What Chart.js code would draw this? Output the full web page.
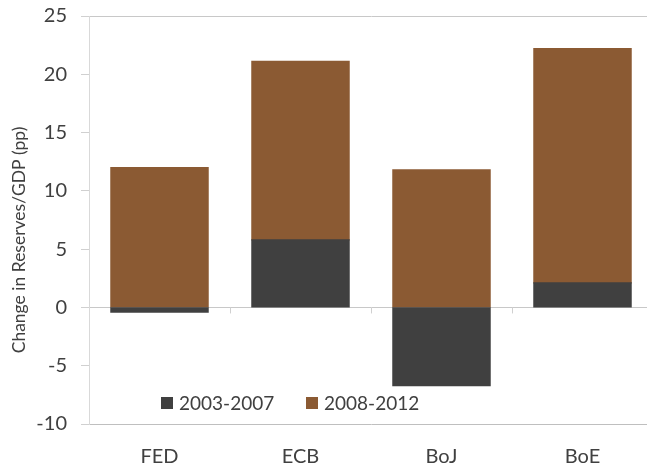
<!DOCTYPE html>
<html>
<head>
<meta charset="utf-8">
<script src="https://cdn.jsdelivr.net/npm/chart.js@4/dist/chart.umd.min.js"></script>
<style>
html,body{margin:0;padding:0;overflow:hidden;background:#fff;}
#wrap{width:660px;height:468px;}
</style>
</head>
<body>
<div id="wrap"><canvas id="c" width="660" height="468"></canvas></div>
<script>
const categories = ["FED", "ECB", "BoJ", "BoE"];
const series2003 = [-0.4, 5.8, -6.7, 2.1];
const series2008 = [12.0, 15.3, 11.8, 20.1];
const seriesLabels = ["2003-2007", "2008-2012"];
const yTicks = [-10, -5, 0, 5, 10, 15, 20, 25];
const yTitle = "Change in Reserves/GDP (pp)";

const FONT = "Lato, 'Open Sans', sans-serif";
const DARK = "#404040";
const BROWN = "#8B5A33";

const insideLegend = {
  id: 'insideLegend',
  afterDraw(chart) {
    const ctx = chart.ctx;
    const area = chart.chartArea;
    const y = area.bottom - 21;
    let x = area.left + 72;
    ctx.save();
    ctx.font = "19px " + FONT;
    ctx.textBaseline = "middle";
    chart.data.datasets.forEach((ds) => {
      ctx.fillStyle = ds.backgroundColor;
      ctx.fillRect(x, y - 6, 12, 12);
      ctx.fillStyle = "#404040";
      ctx.fillText(ds.label, x + 18, y + 1);
      x += 145;
    });
    ctx.restore();
  }
};

const sideTitle = {
  id: 'sideTitle',
  afterDraw(chart) {
    const ctx = chart.ctx;
    const area = chart.chartArea;
    ctx.save();
    ctx.translate(19, (area.top + area.bottom) / 2 + 20);
    ctx.rotate(-Math.PI / 2);
    ctx.font = "17.5px " + FONT;
    ctx.fillStyle = "#404040";
    ctx.textAlign = "center";
    ctx.textBaseline = "middle";
    ctx.fillText(yTitle, 0, 0);
    ctx.restore();
  }
};

const zeroTicks = {
  id: 'zeroTicks',
  afterDatasetsDraw(chart) {
    const ctx = chart.ctx;
    const xs = chart.scales.x, ys = chart.scales.y;
    const y0 = ys.getPixelForValue(0);
    ctx.save();
    ctx.strokeStyle = "#d0d0d0";
    ctx.lineWidth = 1;
    for (let i = 1; i < categories.length; i++) {
      const px = Math.round((xs.getPixelForValue(i - 1) + xs.getPixelForValue(i)) / 2) + 0.5;
      ctx.beginPath();
      ctx.moveTo(px, y0);
      ctx.lineTo(px, y0 + 6);
      ctx.stroke();
    }
    ctx.restore();
  }
};

new Chart(document.getElementById('c'), {
  type: 'bar',
  data: {
    labels: categories,
    datasets: [
      { label: seriesLabels[0], data: series2003, backgroundColor: DARK, categoryPercentage: 1, barPercentage: 0.69, inflateAmount: 0.6 },
      { label: seriesLabels[1], data: series2008, backgroundColor: BROWN, categoryPercentage: 1, barPercentage: 0.69, inflateAmount: 0.6 }
    ]
  },
  options: {
    responsive: false,
    animation: false,
    layout: { padding: { top: 16, right: 7, left: 0, bottom: 0 } },
    plugins: { legend: { display: false }, tooltip: { enabled: false } },
    scales: {
      x: {
        stacked: true,
        grid: { display: false },
        border: { display: true, color: "#bfbfbf", width: 1 },
        ticks: { color: "#404040", font: { family: FONT, size: 20 }, padding: 13 },
        afterFit(s) { s.height = 44; s.paddingLeft = 0; s.paddingRight = 0; }
      },
      y: {
        stacked: true,
        min: -10, max: 25,
        afterBuildTicks(s) { s.ticks = yTicks.map(v => ({ value: v })); },
        grid: {
          drawOnChartArea: true,
          drawTicks: true,
          tickLength: 8,
          tickColor: "#d0d0d0",
          color: (c) => (c.tick && (c.tick.value === 25 || c.tick.value === 0)) ? "#c8c8c8" : "rgba(0,0,0,0)"
        },
        border: { display: true, color: "#d9d9d9", width: 1 },
        ticks: { color: "#404040", font: { family: FONT, size: 20 }, padding: 14 },
        afterFit(s) { s.width = 89; s.paddingTop = 0; s.paddingBottom = 0; }
      }
    }
  },
  plugins: [zeroTicks, insideLegend, sideTitle]
});
</script>
</body>
</html>
